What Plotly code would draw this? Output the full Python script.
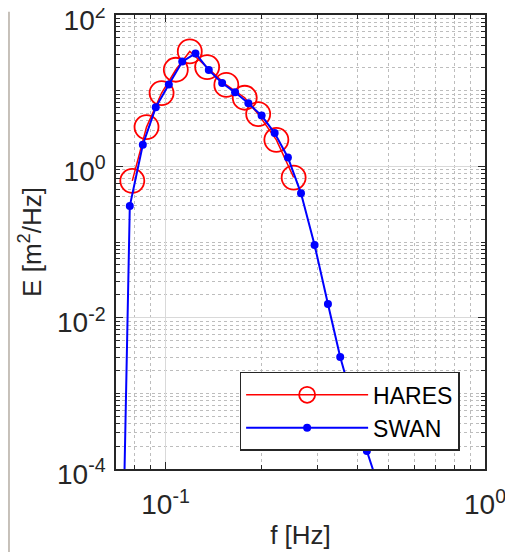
import plotly.graph_objects as go

# HARES spectrum (red circles)
hares_f = [0.0787, 0.0872, 0.0972, 0.1077, 0.1191, 0.135, 0.155, 0.177, 0.195, 0.2223, 0.2518]
hares_E = [0.643, 3.30, 9.30, 18.9, 33.0, 20.5, 11.9, 8.06, 4.90, 2.24, 0.711]

# SWAN spectrum (blue dots)
swan_f = [0.0703, 0.0773, 0.0849, 0.0932, 0.1024, 0.1128, 0.1241, 0.1366, 0.1504, 0.1651, 0.1817,
          0.1999, 0.2196, 0.2416, 0.2655, 0.2928, 0.3224, 0.3522, 0.387, 0.4268, 0.47]
swan_E = [5.6e-10, 0.299, 1.93, 6.02, 12.1, 24.2, 31.1, 18.7, 12.6, 9.5, 6.8,
          4.68, 2.75, 1.31, 0.44, 0.0913, 0.0152, 0.00303, 7.4e-4, 1.73e-4, 5e-5]

# tick labels, matlab style
x_ticks = [0.1, 1]
x_labels = ["10<sup>-1</sup>", "10<sup>0</sup>"]
y_ticks = [1e-4, 1e-2, 1, 1e2]
y_labels = ["10<sup>-4</sup>", "10<sup>-2</sup>", "10<sup>0</sup>", "10<sup>2</sup>"]

fnt = "Liberation Sans, Arial, sans-serif"
axcol = "#262626"

fig = go.Figure()
fig.add_trace(go.Scatter(
    x=hares_f, y=hares_E, name="HARES", mode="lines+markers",
    line=dict(color="#ff0000", width=1.5),
    marker=dict(symbol="circle-open", size=24, color="#ff0000", line=dict(width=1.8)),
))
fig.add_trace(go.Scatter(
    x=swan_f, y=swan_E, name="SWAN", mode="lines+markers",
    line=dict(color="#0000ff", width=2),
    marker=dict(symbol="circle", size=8, color="#0000ff"),
))

# dotted minor grid (2..9 of every decade)
minor = dict(ticks="inside", ticklen=4, tickcolor=axcol, showgrid=True,
             gridcolor="#bdbdbd", griddash="dot", gridwidth=1, dtick="D1")

fig.update_xaxes(
    type="log", range=[-1.155, 0], tickmode="array", tickvals=x_ticks, ticktext=x_labels,
    showline=True, linecolor=axcol, linewidth=1.5, mirror="allticks",
    ticks="inside", ticklen=7, tickcolor=axcol,
    showgrid=True, gridcolor="#d9d9d9", gridwidth=1,
    minor=minor, zeroline=False, ticklabeloverflow="allow",
    tickfont=dict(size=28, color=axcol, family=fnt), ticklabelstandoff=10,
    title=dict(text="f [Hz]", font=dict(size=26, color=axcol, family=fnt), standoff=6),
)
fig.update_yaxes(
    type="log", range=[-4, 2], tickmode="array", tickvals=y_ticks, ticktext=y_labels,
    showline=True, linecolor=axcol, linewidth=1.5, mirror="allticks",
    ticks="inside", ticklen=7, tickcolor=axcol,
    showgrid=True, gridcolor="#d9d9d9", gridwidth=1,
    minor=minor, zeroline=False, ticklabeloverflow="allow",
    tickfont=dict(size=28, color=axcol, family=fnt), ticklabelstandoff=3, ticklabelshift=5,
    title=dict(text="E [m<sup>2</sup>/Hz]", font=dict(size=26, color=axcol, family=fnt), standoff=8),
)

# page body has an 8px margin, so the figure is 8px smaller
fig.update_layout(
    width=505, height=544,
    margin=dict(l=108, r=28, t=7, b=83, autoexpand=False),
    paper_bgcolor="white", plot_bgcolor="white",
    font=dict(family=fnt, color=axcol),
    legend=dict(
        x=0.335, y=0.214, xanchor="left", yanchor="top",
        bgcolor="white", bordercolor=axcol, borderwidth=1.5,
        font=dict(size=23, family=fnt, color="black"),
        itemwidth=122, entrywidth=92, tracegroupgap=0,
    ),
    shapes=[dict(type="line", xref="paper", yref="paper", x0=-0.29, x1=-0.29, y0=-0.183, y1=1.007,
                 line=dict(color="#b5ada3", width=1.5))],
)

fig.write_html("out.html")
